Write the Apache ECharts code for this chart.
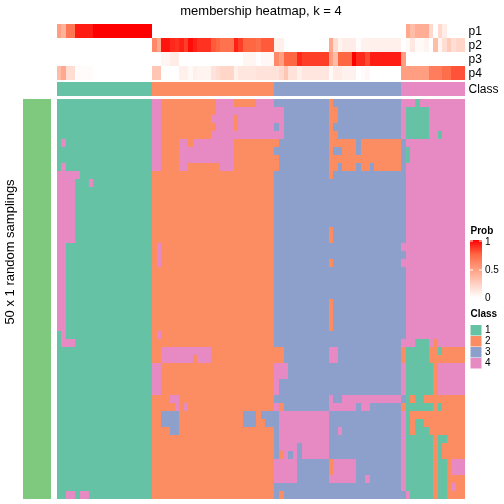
<!DOCTYPE html>
<html><head><meta charset="utf-8">
<style>html,body{margin:0;padding:0;background:#fff}#c{width:504px;height:504px}</style>
<script src="https://cdn.jsdelivr.net/npm/echarts@6/dist/echarts.min.js"></script>
</head><body><div id="c"></div>
<script>
// every token is value@lastColumn (inclusive)
const probNames = ['p1','p2','p3','p4'];
const p1 = "0.5@0 0.4@1 0.68@3 0.93@7 1@20 0@76 0.45@77 0.35@78 0.42@81 0.2@82 0@83 0.2@84 0.1@85 0@89";
const p2 = "0@20 0.6@21 0.45@22 0.95@24 0.9@25 0.88@26 0.92@27 0.85@28 0.97@29 0.92@30 0.88@33 0.78@34 0.75@35 0.7@38 0.92@39 0.85@40 0.75@43 0.72@44 0.78@47 0.08@49 0@59 0.45@60 0.18@61 0.06@62 0.1@65 0.02@66 0.07@68 0.08@75 0@76 0.03@77 0.12@78 0.03@80 0.06@81 0@82 0.35@83 0.05@84 0.18@85 0.27@86 0.17@87 0.22@89";
const p3 = "0@22 0.05@24 0.1@26 0@40 0.05@43 0.01@44 0.04@47 0.6@48 0.5@49 0.75@52 0.9@53 0.85@59 0.5@60 0.35@61 0.75@64 1@65 0.9@67 0.82@68 0.93@75 0.5@76 0@89";
const p4 = "0.35@0 0.45@1 0.18@3 0.02@7 0@20 0.3@22 0@25 0.01@26 0.08@28 0.03@29 0.08@30 0.06@33 0.15@34 0.18@35 0.22@38 0.08@39 0.13@43 0.15@48 0.2@49 0.3@50 0.15@52 0.08@53 0.13@59 0.03@60 0.1@62 0.07@65 0@66 0.02@67 0.04@68 0@75 0.5@81 0.65@84 0.72@86 0.8@89";
const classRow = "1@20 2@47 3@75 4@89";
const R11 = "4@3 1@20 2@47 3@76 4@89";
const R16 = "4@3 1@20 2@47 3@59 2@60 3@76 4@89";
const R21 = "4@1 1@20 2@47 3@76 4@89";
const R25 = "4@1 1@20 2@47 3@59 2@60 3@76 4@89";
const R33 = "1@20 4@22 2@47 4@50 3@75 4@76 1@82 2@83 4@89";
const R35 = "1@20 4@22 2@47 4@48 3@75 4@76 1@82 2@83 4@89";
const R45 = "1@20 2@47 4@52 3@59 2@60 4@65 3@75 4@76 1@82 2@83 1@85 2@86 4@89";
const rows = [
"1@20 4@22 2@34 4@38 2@43 4@47 3@59 2@60 3@75 4@78 1@79 4@89",
"1@20 4@22 2@34 4@49 3@59 2@61 3@75 4@76 1@81 4@89",
"1@20 4@22 2@33 4@38 2@39 4@49 3@59 2@61 3@75 4@76 1@81 4@89",
"1@20 4@22 2@34 4@38 2@39 4@47 3@48 4@49 3@59 2@60 3@75 4@76 1@81 4@89",
"1@20 4@22 2@33 4@49 3@59 2@61 3@75 4@76 1@81 4@83 1@84 4@89",
"1@0 4@1 1@20 4@22 2@26 4@28 2@29 4@38 2@48 3@59 2@65 3@66 2@75 3@76 4@89",
"1@20 4@22 2@26 4@38 2@47 3@59 2@60 3@62 2@65 3@66 2@75 3@76 1@77 4@89",
"1@20 4@22 2@26 4@38 2@48 3@59 2@75 3@76 1@77 4@89",
"1@0 4@1 1@20 4@22 2@26 4@28 2@35 4@38 2@48 3@59 2@61 3@62 2@65 3@66 2@68 3@69 2@75 3@76 4@89",
"4@4 1@20 2@47 3@59 2@60 3@76 4@89",
"4@3 1@6 4@7 1@20 2@47 3@76 4@89",
R11,R11,R11,R11,R11,
R16,R16,
"4@1 1@20 2@21 4@22 2@47 3@75 4@89",
"4@1 1@20 2@21 4@22 2@47 3@76 4@89",
"4@1 1@20 2@21 4@22 2@47 3@59 2@60 3@75 4@89",
R21,R21,R21,R21,
R25,R25,R25,R25,
"1@0 4@1 1@20 2@21 4@22 2@47 3@76 4@89",
"1@0 4@3 1@20 2@47 3@75 4@78 1@81 4@82 2@83 4@89",
"1@20 2@22 4@33 2@49 3@59 4@61 3@75 2@76 1@81 2@83 1@84 2@89",
"1@20 2@22 4@29 2@30 4@33 2@49 3@59 4@61 3@75 2@76 1@81 2@89",
R33,R33,R35,R35,
"1@20 2@24 4@26 2@47 3@59 4@60 3@62 4@75 3@76 1@77 2@78 1@80 2@89",
"1@20 2@25 4@26 2@27 4@28 2@47 4@48 2@49 3@59 4@65 3@66 4@68 3@75 2@76 1@82 2@83 1@84 2@89",
"1@20 2@22 3@26 2@40 3@43 2@44 3@48 4@59 3@75 4@76 1@77 2@89",
"1@20 2@22 3@26 2@40 3@43 2@45 3@48 4@59 3@75 4@76 1@77 2@78 1@80 2@89",
"1@20 2@24 3@26 2@47 3@48 4@59 3@61 4@62 3@75 4@76 1@77 2@78 1@81 2@89",
"1@20 2@47 3@48 4@59 3@75 4@76 1@82 2@83 1@85 2@89",
"1@20 2@47 3@48 4@52 3@53 4@59 3@75 4@76 1@82 2@83 1@84 2@89",
"1@20 2@47 3@48 2@49 4@50 3@51 4@52 3@53 4@59 3@75 4@76 1@82 2@83 1@84 2@89",
R45,R45,
"1@20 2@47 4@52 3@59 4@65 3@67 4@68 3@75 4@76 1@82 2@83 1@85 2@89",
"1@20 2@47 3@75 4@76 1@82 2@83 1@85 2@86 4@87 2@89",
"1@1 4@3 1@4 4@6 1@20 2@47 3@48 2@49 3@76 4@77 1@82 2@83 1@85 2@89"
];
const classNames = ['1','2','3','4'];
const classColors = ['#66C2A5','#FC8D62','#8DA0CB','#E78AC3'];
const probTicks = ['1','0.5','0'];
const probRamp = ['#FFFFFF','#FFD0C1','#FF9E81','#FF6743','#FF0000'];
const nCols = 90;

function expand(s){
  const out=[]; s.split(' ').forEach(t=>{const [v,e]=t.split('@');while(out.length<=+e)out.push(+v);});
  return out;
}
const cols = Array.from({length:nCols},(_,i)=>String(i));
function cat(data,gridIndex,inverse){return {type:'category',data,gridIndex,show:false,inverse:!!inverse};}
const rowIdx = rows.map((_,i)=>String(i));

const mainData=[]; rows.forEach((r,y)=>expand(r).forEach((v,x)=>mainData.push([x,y,v])));
const probData=[]; [p1,p2,p3,p4].forEach((r,y)=>expand(r).forEach((v,x)=>probData.push([x,y,v])));
const classData=expand(classRow).map((v,x)=>[x,0,v]);

const GL=56.85,GW=408;
// cells snapped to whole pixels through the axis scale, so neighbours share an edge
function cell(params,api){
  const c=api.coord([api.value(0),api.value(1)]), s=api.size([1,1]);
  const x0=Math.round(c[0]-s[0]/2),x1=Math.round(c[0]+s[0]/2),y0=Math.round(c[1]-s[1]/2),y1=Math.round(c[1]+s[1]/2);
  return {type:'rect',shape:{x:x0,y:y0,width:x1-x0,height:y1-y0},style:{fill:api.visual('color')}};
}
const hm=(i,data)=>({type:'custom',coordinateSystem:'cartesian2d',xAxisIndex:i,yAxisIndex:i,data,silent:true,renderItem:cell,encode:{x:0,y:1},animation:false,progressive:0});
const F='"Liberation Sans",Arial,sans-serif';
function txt(x,y,s,size,extra){return Object.assign({type:'text',x,y,silent:true,style:Object.assign({text:s,font:(extra&&extra.w?extra.w+' ':'')+size+'px '+F,fill:'#000',textAlign:'left',textVerticalAlign:'middle'},extra&&extra.st||{})},extra&&extra.o||{});}

const g=[];
g.push(txt(261,11,'membership heatmap, k = 4',13,{st:{textAlign:'center'}}));
probNames.forEach((n,i)=>g.push(txt(468.5,31.5+14*i,n,12)));
g.push(txt(468.5,89.5,'Class',12));
g.push(txt(10,252,'50 x 1 random samplings',13,{st:{textAlign:'center'},o:{rotation:Math.PI/2}}));
g.push(txt(38,299,'top 1000 rows',10.5,{st:{textAlign:'center'},o:{rotation:Math.PI/2}}));
// legends
g.push(txt(470.5,231,'Prob',10,{w:'bold'}));
g.push({type:'rect',silent:true,shape:{x:470,y:240,width:12,height:58},style:{fill:new echarts.graphic.LinearGradient(0,1,0,0,probRamp.map((c,i)=>({offset:i/(probRamp.length-1),color:c})))}});
[241,270].forEach(y=>{
  g.push({type:'line',silent:true,shape:{x1:470,y1:y,x2:473,y2:y},style:{stroke:'#fff',lineWidth:1}});
  g.push({type:'line',silent:true,shape:{x1:479,y1:y,x2:482,y2:y},style:{stroke:'#fff',lineWidth:1}});
});
probTicks.forEach((t,i)=>g.push(txt(485,[242,270.5,298][i],t,10)));
g.push(txt(470.5,314,'Class',10,{w:'bold'}));
classNames.forEach((n,i)=>{
  g.push({type:'rect',silent:true,shape:{x:470.5,y:325+11*i,width:11,height:10.5},style:{fill:classColors[i]}});
  g.push(txt(485,330.5+11*i,n,10));
});

const chart=echarts.init(document.getElementById('c'),null,{renderer:'canvas'});
chart.setOption({
  animation:false,
  backgroundColor:'#fff',
  grid:[
    {left:GL,top:99,width:GW,height:400},
    {left:GL,top:24,width:GW,height:56},
    {left:GL,top:82,width:GW,height:14},
    {left:23,top:99,width:28,height:400}
  ],
  xAxis:[cat(cols,0),cat(cols,1),cat(cols,2),cat(['a'],3)],
  yAxis:[cat(rowIdx,0,true),cat(probNames,1,true),cat(['Class'],2),cat(['a'],3)],
  visualMap:[
    {show:false,type:'continuous',min:0,max:1,seriesIndex:1,dimension:2,inRange:{color:probRamp}},
    {show:false,type:'piecewise',seriesIndex:[0,2],dimension:2,pieces:classNames.map((n,i)=>({value:+n,color:classColors[i]}))},
    {show:false,type:'piecewise',seriesIndex:3,dimension:2,pieces:[{value:1,color:'#7FC97F'}]}
  ],
  series:[
    hm(0,mainData),hm(1,probData),hm(2,classData),hm(3,[[0,0,1]])
  ],
  graphic:g
});
</script></body></html>
